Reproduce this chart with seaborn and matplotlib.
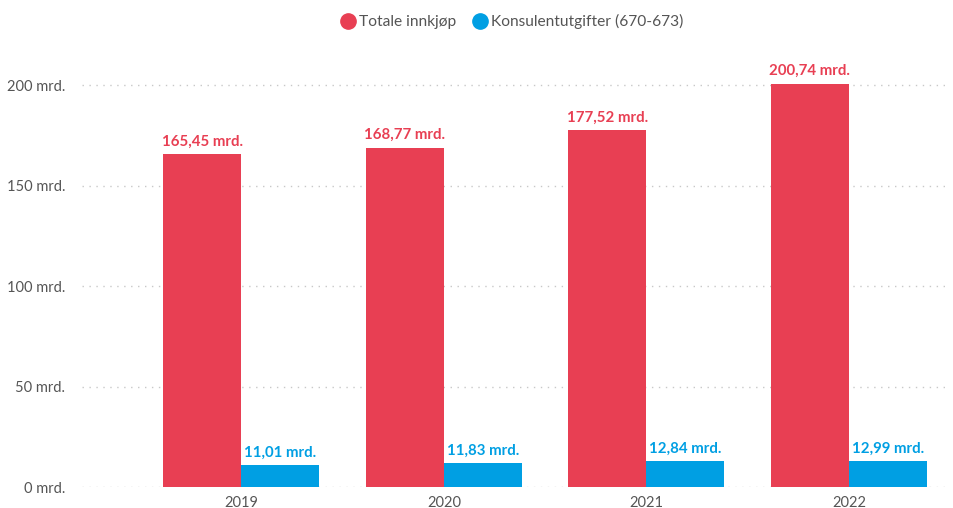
import pandas as pd
import matplotlib.pyplot as plt
import seaborn as sns
from matplotlib.lines import Line2D

# Data (milliarder kroner)
years = ['2019', '2020', '2021', '2022']
totale = [165.45, 168.77, 177.52, 200.74]
konsulent = [11.01, 11.83, 12.84, 12.99]
series_names = ['Totale innkjøp', 'Konsulentutgifter (670-673)']
colors = ['#E83F53', '#009FE3']

df = pd.DataFrame({
    'year': years * 2,
    'value': totale + konsulent,
    'series': [series_names[0]] * 4 + [series_names[1]] * 4,
})

sns.set_style('white')
plt.rcParams['font.family'] = ['Lato', 'DejaVu Sans']
text_color = '#555555'

fig = plt.figure(figsize=(9.54, 5.08), dpi=100)
ax = fig.add_axes([0.086, 0.041, 0.91, 0.851])

sns.barplot(data=df, x='year', y='value', hue='series', palette=colors,
            width=0.77, saturation=1, ax=ax, legend=False, linewidth=0)

ax.set_ylim(0, 215)
ax.set_xlim(-0.787, 3.5)
ax.set_yticks([0, 50, 100, 150, 200])
ax.set_yticklabels([f'{t} mrd.' for t in [0, 50, 100, 150, 200]])
ax.set_xlabel('')
ax.set_ylabel('')
ax.grid(axis='y', color='#c8c8c8', linestyle=(0, (1, 4)), linewidth=1)
ax.set_axisbelow(True)
for s in ax.spines.values():
    s.set_visible(False)
ax.tick_params(axis='both', length=0, colors=text_color, labelsize=10.5)
ax.tick_params(axis='y', pad=12)
ax.tick_params(axis='x', pad=6)

for cont, col in zip(ax.containers, colors):
    labels = [f'{b.get_height():.2f}'.replace('.', ',') + ' mrd.' for b in cont]
    ax.bar_label(cont, labels=labels, padding=4, color=col,
                 fontweight='bold', fontsize=10.8)

handles = [Line2D([0], [0], marker='o', linestyle='', markersize=11,
                  markerfacecolor=c, markeredgecolor=c) for c in colors]
fig.legend(handles, series_names, loc='upper center', ncol=2,
           bbox_to_anchor=(0.535, 1.0), frameon=False, handletextpad=0.0,
           columnspacing=0.8, handlelength=1.4, fontsize=11.2,
           labelcolor=text_color)

fig.savefig('out.png', dpi=100)
